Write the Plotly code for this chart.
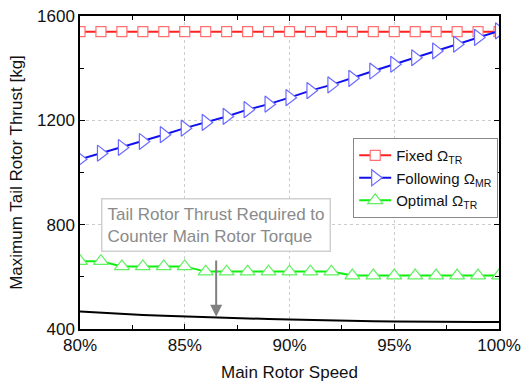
import plotly.graph_objects as go

# Main rotor speed (% of nominal), 1 % steps
speed = [80, 81, 82, 83, 84, 85, 86, 87, 88, 89, 90,
         91, 92, 93, 94, 95, 96, 97, 98, 99, 100]

# Maximum tail rotor thrust [kg] for each tail rotor speed strategy
fixed_tr = [1540] * 21
following_mr = [1051, 1074, 1096, 1119, 1145, 1170, 1192, 1215, 1241, 1262, 1287,
                1314, 1336, 1361, 1389, 1415, 1440, 1466, 1492, 1518, 1543]
optimal_tr = [660, 660, 640, 640, 640, 640, 620, 620, 620, 620, 620,
              620, 620, 605, 605, 605, 605, 605, 605, 605, 605]

# Thrust required to counter main rotor torque [kg]
required = [467, 462, 458, 454, 451, 448, 445, 442, 440, 438, 436,
            434, 432, 431, 430, 429, 428, 428, 427, 427, 427]

x_ticks = [80, 85, 90, 95, 100]
x_tick_labels = ["80%", "85%", "90%", "95%", "100%"]
y_ticks = [400, 800, 1200, 1600]

FONT = "Liberation Sans, Arial, sans-serif"

fig = go.Figure()

fig.add_trace(go.Scatter(
    x=speed, y=fixed_tr, mode="lines+markers", name="Fixed Ω<sub>TR</sub>",
    line=dict(color="#ff2020", width=2),
    marker=dict(symbol="square", size=10, color="white",
                line=dict(color="#ff7070", width=1.2)),
))
fig.add_trace(go.Scatter(
    x=speed, y=following_mr, mode="lines+markers", name="Following Ω<sub>MR</sub>",
    line=dict(color="#1010ee", width=2),
    marker=dict(symbol="triangle-right", size=14, color="white",
                line=dict(color="#6a6aff", width=1.2)),
))
fig.add_trace(go.Scatter(
    x=speed, y=optimal_tr, mode="lines+markers", name="Optimal Ω<sub>TR</sub>",
    line=dict(color="#10ee10", width=2),
    marker=dict(symbol="triangle-up", size=13, color="white",
                line=dict(color="#60f060", width=1.2)),
))
fig.add_trace(go.Scatter(
    x=speed, y=required, mode="lines", showlegend=False,
    line=dict(color="black", width=2),
))

# Label box for the required-thrust curve
fig.add_annotation(
    x=86.5, y=800, xref="x", yref="y",
    text="Tail Rotor Thrust Required to<br>Counter Main Rotor Torque",
    showarrow=False, align="left",
    font=dict(family=FONT, size=17, color="#8a8a8a"),
    bgcolor="rgba(255,255,255,0.95)", bordercolor="#d0d0d0", borderwidth=1.5,
    borderpad=5,
)
# Arrow pointing at the curve
fig.add_annotation(
    x=86.5, y=447, ax=86.5, ay=668, xref="x", yref="y", axref="x", ayref="y",
    text="", showarrow=True, arrowhead=2, arrowsize=1.2, arrowwidth=2,
    arrowcolor="#808080",
)

axis_common = dict(
    showline=True, linecolor="black", linewidth=1.5, mirror="ticks",
    ticks="inside", ticklen=5, tickwidth=1, tickcolor="black",
    showgrid=True, gridcolor="#cccccc", griddash="dot", gridwidth=1,
    zeroline=False, automargin=False,
    tickfont=dict(family=FONT, size=17, color="#111"),
)

fig.update_xaxes(
    range=[80, 100], tickvals=x_ticks, ticktext=x_tick_labels,
    minor=dict(ticks="inside", ticklen=4, dtick=2.5, tick0=80, tickcolor="black",
               showgrid=False),
    title=dict(text="Main Rotor Speed", font=dict(family=FONT, size=17, color="#111"),
               standoff=12),
    **axis_common,
)
fig.update_yaxes(
    range=[400, 1600], tickvals=y_ticks,
    minor=dict(ticks="inside", ticklen=4, dtick=200, tick0=400, tickcolor="black",
               showgrid=False),
    title=dict(text="Maximum Tail Rotor Thrust [kg]",
               font=dict(family=FONT, size=17, color="#111"), standoff=10),
    **axis_common,
)

fig.update_layout(
    width=521, height=385,
    margin=dict(l=80, r=22, t=16, b=56),
    plot_bgcolor="white", paper_bgcolor="white",
    font=dict(family=FONT, color="#111"),
    legend=dict(
        x=0.652, y=0.61, xanchor="left", yanchor="top",
        bgcolor="white", bordercolor="#888", borderwidth=1,
        font=dict(family=FONT, size=15, color="#111"),
        itemwidth=32, tracegroupgap=0,
    ),
)

fig.write_html("out.html")
